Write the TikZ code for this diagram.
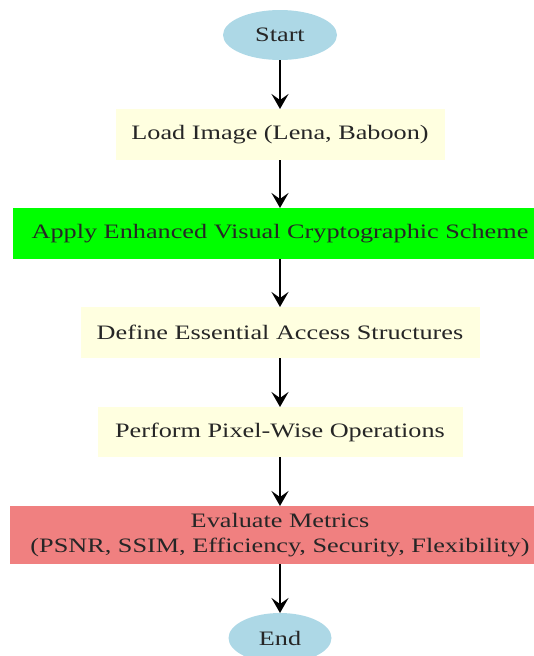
\documentclass[tikz,border=0pt]{standalone}
\usepackage{fontspec}
\setmainfont{Liberation Serif}
\usetikzlibrary{shapes.geometric,arrows.meta}

% flowchart colours
\definecolor{startblue}{HTML}{ADD8E6}
\definecolor{stepyellow}{HTML}{FFFFE0}
\definecolor{schemegreen}{HTML}{00FF00}
\definecolor{metricred}{HTML}{F08080}

% wide serif labels
\newcommand{\widelabel}[1]{\scalebox{1.28}[1]{#1}}

\tikzset{
  base/.style={inner sep=0pt, outer sep=0pt, text=black!85,
    font=\fontsize{20.5}{25}\selectfont, align=center},
  terminal/.style={base, ellipse, fill=startblue},
  stepbox/.style={base, rectangle, fill=stepyellow},
  flowarrow/.style={line width=2pt,
    -{Stealth[length=15pt, width=17pt, inset=6pt]}}
}

\begin{document}
\begin{tikzpicture}[x=1pt, y=-1pt]
  \useasboundingbox (0,0) rectangle (534,656);
  \clip (0,0) rectangle (534,656);

  \node[terminal, minimum width=114pt, minimum height=50pt]
    (start) at (280,35) {\widelabel{Start}};
  \node[stepbox, minimum width=329pt, minimum height=51pt]
    (load) at (280,134.5) {\widelabel{Load Image (Lena, Baboon)}};
  \node[stepbox, fill=schemegreen, minimum width=534pt, minimum height=51pt]
    (apply) at (280,233.5) {\widelabel{Apply Enhanced Visual Cryptographic Scheme}};
  \node[stepbox, minimum width=399pt, minimum height=51pt]
    (define) at (280,332.5) {\widelabel{Define Essential Access Structures}};
  \node[stepbox, minimum width=365pt, minimum height=50pt]
    (pixel) at (280,432) {\widelabel{Perform Pixel-Wise Operations}};
  \node[stepbox, fill=metricred, minimum width=540pt, minimum height=58pt]
    (metrics) at (280,535)
    {\widelabel{\begin{tabular}{@{}c@{}}Evaluate Metrics\\(PSNR, SSIM, Efficiency, Security, Flexibility)\end{tabular}}};
  \node[terminal, minimum width=103pt, minimum height=50pt]
    (end) at (280,638) {\widelabel{End}};

  \draw[flowarrow] (start) -- (load);
  \draw[flowarrow] (load) -- (apply);
  \draw[flowarrow] (apply) -- (define);
  \draw[flowarrow] (define) -- (pixel);
  \draw[flowarrow] (pixel) -- (metrics);
  \draw[flowarrow] (metrics) -- (end);
\end{tikzpicture}
\end{document}
